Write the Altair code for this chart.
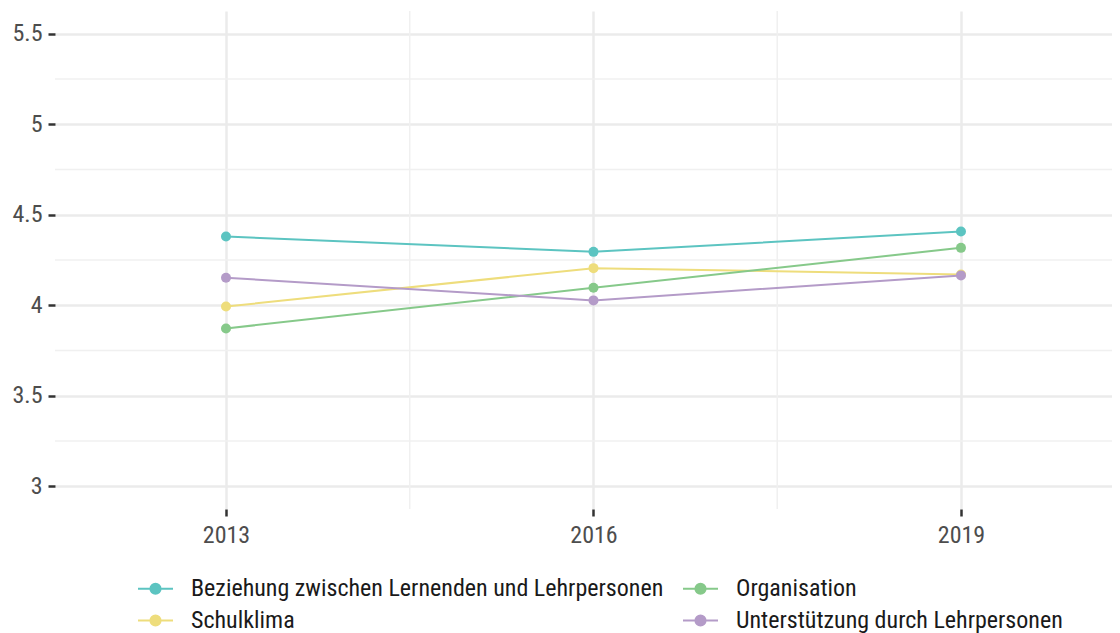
import altair as alt
import pandas as pd

years = [2013, 2016, 2019]
series_names = [
    "Beziehung zwischen Lernenden und Lehrpersonen",
    "Schulklima",
    "Organisation",
    "Unterstützung durch Lehrpersonen",
]
beziehung = [4.38, 4.295, 4.407]
schulklima = [3.993, 4.205, 4.17]
organisation = [3.872, 4.097, 4.317]
unterstuetzung = [4.152, 4.027, 4.165]
colors = ["#5CC4C1", "#EEDD7C", "#86C98A", "#B49BC8"]

y_ticks = [3, 3.5, 4, 4.5, 5, 5.5]
y_minor = [3.25, 3.75, 4.25, 4.75, 5.25]
x_minor = [2014.5, 2017.5]

FONT = "Liberation Sans Narrow, Arial Narrow, Roboto Condensed, sans-serif"

rows = []
for name, vals in zip(series_names, [beziehung, schulklima, organisation, unterstuetzung]):
    for yr, v in zip(years, vals):
        rows.append({"Jahr": yr, "Wert": v, "Bereich": name})
df = pd.DataFrame(rows)

x_scale = alt.Scale(domain=[2011.604, 2020.233], nice=False, zero=False)
y_scale = alt.Scale(domain=[2.875, 5.625], nice=False, zero=False)

x_axis = alt.Axis(values=years, format="d", title=None, grid=True, gridColor="#EBEBEB",
                  gridWidth=2.5, domain=False, ticks=True, tickColor="#333333",
                  tickWidth=2.5, tickSize=7, labelFontSize=24, labelColor="#4D4D4D",
                  labelFont=FONT, labelPadding=7)
y_axis = alt.Axis(values=y_ticks, format="~g", title=None, grid=True, gridColor="#EBEBEB",
                  gridWidth=2.5, domain=False, ticks=True, tickColor="#333333",
                  tickWidth=2.5, tickSize=7, labelFontSize=24, labelColor="#4D4D4D",
                  labelFont=FONT, labelPadding=6)

ymin = alt.Chart(pd.DataFrame({"v": y_minor})).mark_rule(color="#F0F0F0", strokeWidth=1.5).encode(
    y=alt.Y("v:Q", scale=y_scale, axis=y_axis)
)
xmin = alt.Chart(pd.DataFrame({"v": x_minor})).mark_rule(color="#F0F0F0", strokeWidth=1.5).encode(
    x=alt.X("v:Q", scale=x_scale, axis=x_axis)
)

color = alt.Color(
    "Bereich:N",
    scale=alt.Scale(domain=series_names, range=colors),
    legend=alt.Legend(
        title=None, orient="none", legendX=82, legendY=559, columns=2,
        symbolType="M-1,0L1,0M-0.29,0A0.29,0.29 0 1 1 0.29,0A0.29,0.29 0 1 1 -0.29,0Z",
        symbolSize=1225, symbolStrokeWidth=2, labelFont=FONT, labelFontSize=24,
        labelColor="#1A1A1A", labelOffset=17, columnPadding=15, rowPadding=1,
        labelLimit=0,
    ),
)

line = alt.Chart(df).mark_line(strokeWidth=2).encode(
    x=alt.X("Jahr:Q", scale=x_scale, axis=x_axis),
    y=alt.Y("Wert:Q", scale=y_scale, axis=y_axis),
    color=color,
)
pts = alt.Chart(df).mark_circle(size=100, opacity=1).encode(
    x=alt.X("Jahr:Q", scale=x_scale),
    y=alt.Y("Wert:Q", scale=y_scale),
    color=alt.Color("Bereich:N", scale=alt.Scale(domain=series_names, range=colors), legend=None),
)

chart = alt.layer(ymin, xmin, line, pts).properties(
    width=1057, height=498,
    background="white",
    autosize=alt.AutoSizeParams(type="none"),
    padding={"left": 47, "top": 3, "right": 0, "bottom": 124},
).configure_view(strokeWidth=0, stroke=None)

chart.save("out.html", embed_options={"renderer": "svg", "actions": False})
